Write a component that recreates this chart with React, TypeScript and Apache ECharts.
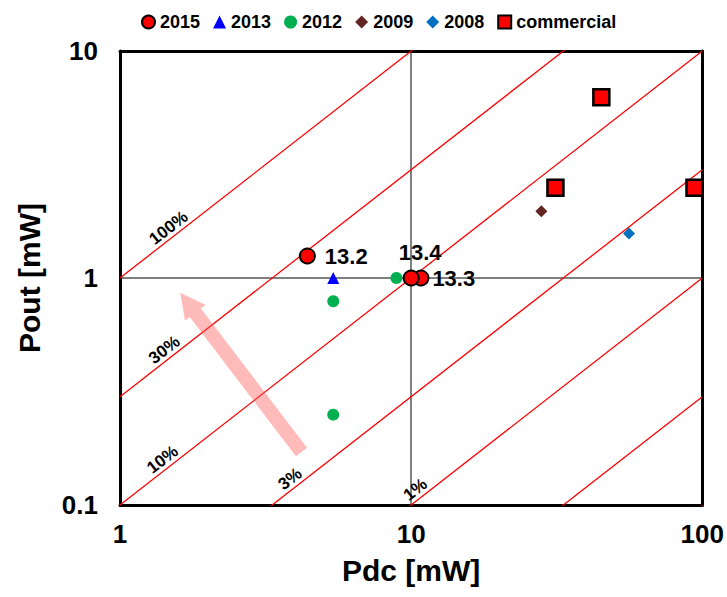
import React, { useEffect, useRef } from "react";
import * as echarts from "echarts";

// Axis ranges (log scale)
const xRange = [1, 100];
const yRange = [0.1, 10];

// Constant-efficiency guide lines: Pout = eff * Pdc
const efficiencies = [1, 0.3, 0.1, 0.03, 0.01, 0.003, 0.001];
const efficiencyLabels = ["100%", "30%", "10%", "3%", "1%"];
const efficiencyLabelPdc = [1.53, 1.48, 1.46, 4.0, 10.77];

// Measured points [Pdc mW, Pout mW]
const points2015 = [
  [4.4, 1.25],
  [10.8, 1.0],
  [10.0, 1.0],
];
const labels2015 = ["13.2", "13.3", "13.4"];
const points2013 = [[5.4, 1.0]];
const points2012 = [
  [8.9, 1.0],
  [5.4, 0.79],
  [5.4, 0.25],
];
const points2009 = [[28, 1.97]];
const points2008 = [[56, 1.57]];
const pointsCommercial = [
  [45, 6.25],
  [31.3, 2.5],
  [94, 2.5],
];

// Trend arrow (tail -> tip) in data coordinates
const arrowTail = [4.2, 0.171];
const arrowTip = [1.61, 0.86];

const legendNames = ["2015", "2013", "2012", "2009", "2008", "commercial"];

const FONT = "'Liberation Sans', Arial, Helvetica, sans-serif";

export default function App() {
  const ref = useRef<HTMLDivElement>(null);

  useEffect(() => {
    if (!ref.current) return;
    const chart = echarts.init(ref.current, null, { renderer: "svg" });

    const labelPlacement: any[] = [
      { position: "right", distance: 9 },
      { position: "right", distance: 3 },
      { position: "top", distance: 6, offset: [9, 0] },
    ];

    const effLines = efficiencies.map((e, i) => ({
      name: "eff" + i,
      type: "line",
      data: [
        [xRange[0], e * xRange[0]],
        [xRange[1], e * xRange[1]],
      ],
      showSymbol: false,
      symbol: "none",
      silent: true,
      clip: true,
      lineStyle: { color: "#FF0000", width: 1.3 },
      z: 2,
    }));

    const logAxisLabel = (v: number) => String(Number(v.toPrecision(3)));

    const option: any = {
      animation: false,
      backgroundColor: "#ffffff",
      textStyle: { fontFamily: FONT },
      legend: {
        data: legendNames,
        left: 136,
        top: 8,
        itemWidth: 13,
        itemHeight: 13,
        itemGap: 13,
        textStyle: { fontSize: 18, fontWeight: "bold", color: "#000", fontFamily: FONT },
      },
      grid: { left: 120, right: 23, top: 51, bottom: 92 },
      xAxis: [
        {
          type: "log",
          logBase: 10,
          min: xRange[0],
          max: xRange[1],
          name: "Pdc [mW]",
          nameLocation: "middle",
          nameGap: 50,
          nameTextStyle: { fontSize: 30, fontWeight: "bold", color: "#000", fontFamily: FONT },
          axisLine: { show: true, lineStyle: { color: "#000", width: 3 } },
          axisTick: { show: false },
          minorTick: { show: false },
          axisLabel: {
            margin: 16,
            fontSize: 26,
            fontWeight: "bold",
            color: "#000",
            fontFamily: FONT,
            formatter: logAxisLabel,
          },
          splitLine: { show: true, lineStyle: { color: "#808080", width: 2 } },
        },
        {
          type: "log",
          logBase: 10,
          min: xRange[0],
          max: xRange[1],
          position: "top",
          axisLine: { show: true, lineStyle: { color: "#000", width: 3 } },
          axisTick: { show: false },
          axisLabel: { show: false },
          splitLine: { show: false },
        },
      ],
      yAxis: [
        {
          type: "log",
          logBase: 10,
          min: yRange[0],
          max: yRange[1],
          name: "Pout [mW]",
          nameLocation: "middle",
          nameGap: 76,
          nameTextStyle: { fontSize: 30, fontWeight: "bold", color: "#000", fontFamily: FONT },
          axisLine: { show: true, lineStyle: { color: "#000", width: 3 } },
          axisTick: { show: false },
          minorTick: { show: false },
          axisLabel: {
            margin: 22,
            fontSize: 26,
            fontWeight: "bold",
            color: "#000",
            fontFamily: FONT,
            formatter: logAxisLabel,
          },
          splitLine: { show: true, lineStyle: { color: "#808080", width: 2 } },
        },
        {
          type: "log",
          logBase: 10,
          min: yRange[0],
          max: yRange[1],
          position: "right",
          axisLine: { show: true, lineStyle: { color: "#000", width: 3 } },
          axisTick: { show: false },
          axisLabel: { show: false },
          splitLine: { show: false },
        },
      ],
      series: [
        ...effLines,
        {
          name: "effLabels",
          type: "scatter",
          silent: true,
          symbolSize: 1,
          itemStyle: { color: "rgba(0,0,0,0)", opacity: 1 },
          data: efficiencyLabelPdc.map((x, i) => ({
            value: [x, efficiencies[i] * x],
            label: { formatter: efficiencyLabels[i] },
          })),
          label: {
            show: true,
            position: "top",
            distance: 1,
            rotate: 38,
            fontSize: 17,
            fontWeight: "bold",
            color: "#000",
            fontFamily: FONT,
          },
          z: 3,
        },
        {
          name: "2015",
          type: "scatter",
          symbol: "circle",
          symbolSize: 15,
          itemStyle: { color: "#FF0000", borderColor: "#000", borderWidth: 2, opacity: 1 },
          data: points2015.map((p, i) => ({
            value: p,
            label: {
              show: true,
              formatter: labels2015[i],
              fontSize: 22,
              fontWeight: "bold",
              color: "#000",
              fontFamily: FONT,
              ...labelPlacement[i],
            },
          })),
          z: 6,
        },
        {
          name: "2013",
          type: "scatter",
          symbol: "triangle",
          symbolSize: 12,
          itemStyle: { color: "#0000FF", opacity: 1 },
          data: points2013,
          z: 5,
        },
        {
          name: "2012",
          type: "scatter",
          symbol: "circle",
          symbolSize: 12,
          itemStyle: { color: "#00B050", opacity: 1 },
          data: points2012,
          z: 5,
        },
        {
          name: "2009",
          type: "scatter",
          symbol: "diamond",
          symbolSize: 12,
          itemStyle: { color: "#632523", opacity: 1 },
          data: points2009,
          z: 5,
        },
        {
          name: "2008",
          type: "scatter",
          symbol: "diamond",
          symbolSize: 12,
          itemStyle: { color: "#0070C0", opacity: 1 },
          data: points2008,
          z: 5,
        },
        {
          name: "commercial",
          type: "scatter",
          symbol: "rect",
          symbolSize: 16,
          itemStyle: { color: "#FF0000", borderColor: "#000", borderWidth: 2.5, opacity: 1 },
          data: pointsCommercial,
          z: 6,
        },
      ],
    };

    chart.setOption(option);

    // Trend arrow drawn in pixel space from its data-space endpoints
    const tail = chart.convertToPixel({ gridIndex: 0 }, arrowTail) as number[];
    const tip = chart.convertToPixel({ gridIndex: 0 }, arrowTip) as number[];
    if (tail && tip) {
      const dx = tip[0] - tail[0];
      const dy = tip[1] - tail[1];
      const len = Math.hypot(dx, dy);
      const ux = dx / len;
      const uy = dy / len;
      const nx = -uy;
      const ny = ux;
      const shaftHalf = 7;
      const headHalf = 13;
      const headLen = 25;
      const bx = tip[0] - ux * headLen;
      const by = tip[1] - uy * headLen;
      const pts = [
        [tail[0] + nx * shaftHalf, tail[1] + ny * shaftHalf],
        [bx + nx * shaftHalf, by + ny * shaftHalf],
        [bx + nx * headHalf, by + ny * headHalf],
        [tip[0], tip[1]],
        [bx - nx * headHalf, by - ny * headHalf],
        [bx - nx * shaftHalf, by - ny * shaftHalf],
        [tail[0] - nx * shaftHalf, tail[1] - ny * shaftHalf],
      ];
      chart.setOption({
        graphic: [
          {
            type: "polygon",
            shape: { points: pts },
            style: { fill: "rgba(255,90,90,0.42)" },
            silent: true,
            z: 4,
          },
        ],
      });
    }

    return () => chart.dispose();
  }, []);

  return (
    <div
      ref={ref}
      style={{ position: "fixed", left: 0, top: 0, width: 727, height: 597, background: "#fff" }}
    />
  );
}
